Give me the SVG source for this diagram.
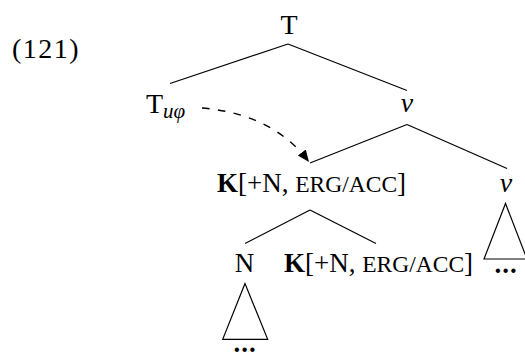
<svg xmlns="http://www.w3.org/2000/svg" width="525" height="352" viewBox="0 0 525 352">
<style>
text{font-family:"Liberation Serif","DejaVu Serif",serif;fill:#000;}
.lbl{font-size:27px;}
.mid{text-anchor:middle;}
.it{font-style:italic;}
.edge{stroke:#000;stroke-width:1.2;fill:none;}
.tri{stroke:#000;stroke-width:1.2;fill:#fff;}
.dash{stroke:#000;stroke-width:1.4;fill:none;stroke-dasharray:7.5 8.5;}
.sc{font-size:23.5px;}
.dots{font-size:27px;font-weight:bold;letter-spacing:1px;}
</style>
<defs>
<marker id="ah" markerUnits="userSpaceOnUse" markerWidth="14" markerHeight="12" viewBox="0 0 14 12" refX="12" refY="6" orient="auto">
<path d="M0,1 L12,6 L0,11 Z" fill="#000"/>
</marker>
</defs>
<g id="label-121"><text class="lbl" x="12" y="58" style="font-size:28px;letter-spacing:1.5px">(121)</text></g>
<g id="connectors">
<line class="edge" x1="288" y1="44" x2="170" y2="83.5"/>
<line class="edge" x1="288" y1="44" x2="407" y2="90.5"/>
<line class="edge" x1="407" y1="124.5" x2="310" y2="163"/>
<line class="edge" x1="407" y1="124.5" x2="507" y2="168.5"/>
<line class="edge" x1="310" y1="210" x2="245" y2="243.5"/>
<line class="edge" x1="310" y1="210" x2="376" y2="243.5"/>
<path class="dash" d="M202,108 Q273,114 309,162" marker-end="url(#ah)"/>
</g>
<g id="node-T"><text class="lbl mid" x="289" y="34" style="font-size:28px">T</text></g>
<g id="node-Tuphi"><text class="lbl" x="146" y="113" style="font-size:28px">T<tspan class="it" style="font-size:21px" dy="5">uφ</tspan></text></g>
<g id="node-v"><text class="lbl mid it" x="407" y="112" style="font-size:28px">v</text></g>
<g id="node-K1"><text class="lbl" x="217" y="192"><tspan font-weight="bold">K</tspan>[+N, <tspan class="sc">ERG/ACC</tspan>]</text></g>
<g id="node-nu"><text class="lbl mid it" x="506" y="192" style="font-size:28px">ν</text>
<polygon class="tri" points="505.5,203.5 484,259 527,259"/>
<text class="dots mid" x="506" y="273">...</text></g>
<g id="node-N"><text class="lbl mid" x="244.5" y="272">N</text>
<polygon class="tri" points="245,283.5 222.7,339.3 267.7,339.3"/>
<text class="dots mid" x="245" y="351.5">...</text></g>
<g id="node-K2"><text class="lbl" x="284" y="272"><tspan font-weight="bold">K</tspan>[+N, <tspan class="sc">ERG/ACC</tspan>]</text></g>
</svg>
